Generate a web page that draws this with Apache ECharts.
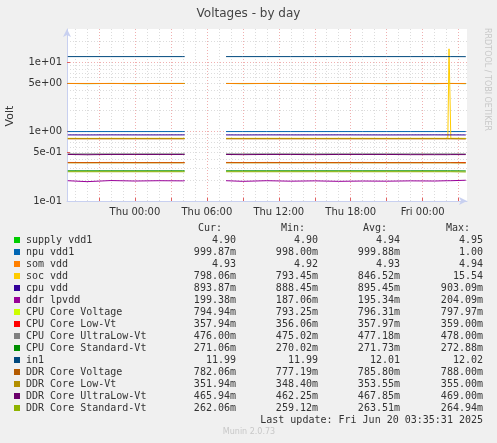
<!DOCTYPE html>
<html>
<head>
<meta charset="utf-8">
<script src="https://cdn.jsdelivr.net/npm/echarts@6/dist/echarts.min.js"></script>
<style>
  html, body { margin: 0; padding: 0; background: #f0f0f0; }
  #chart { width: 497px; height: 443px; }
</style>
</head>
<body>
<div id="chart"></div>
<script>
// hours relative to Thu 00:00; null row = no data (gap)
var hours = [-5.6, -4, -2, 0, 2, 4, 4.15, 5.5, 7.6, 9, 11, 13, 15, 17, 19, 21, 23, 25, 26.1, 26.2, 26.35, 26.5, 27.6];

var names = ['supply vdd1', 'npu vdd1', 'som vdd', 'soc vdd', 'cpu vdd', 'ddr lpvdd',
  'CPU Core Voltage', 'CPU Core Low-Vt', 'CPU Core UltraLow-Vt', 'CPU Core Standard-Vt',
  'in1', 'DDR Core Voltage', 'DDR Core Low-Vt', 'DDR Core UltraLow-Vt', 'DDR Core Standard-Vt'];
var colors = ['#00cc00', '#0066b3', '#ff8000', '#ffcc00', '#330099', '#990099',
  '#ccff00', '#ff0000', '#808080', '#008f00',
  '#00487d', '#b35a00', '#b38f00', '#6b006b', '#8fb300'];

var supplyVdd1 = [4.93, 4.90, 4.93, 4.90, 4.93, 4.93, 4.93, null, 4.93, 4.90, 4.93, 4.93, 4.90, 4.93, 4.93, 4.90, 4.93, 4.90, 4.93, 4.93, 4.93, 4.90, 4.90];
var npuVdd1 = [1.00, 1.00, 1.00, 1.00, 1.00, 1.00, 1.00, null, 1.00, 1.00, 1.00, 1.00, 1.00, 1.00, 1.00, 1.00, 1.00, 1.00, 1.00, 1.00, 1.00, 1.00, 0.9999];
var somVdd = [4.93, 4.93, 4.93, 4.93, 4.93, 4.93, 4.93, null, 4.93, 4.93, 4.93, 4.93, 4.93, 4.93, 4.93, 4.93, 4.93, 4.93, 4.93, 4.93, 4.93, 4.93, 4.93];
var socVdd = [0.798, 0.796, 0.798, 0.797, 0.798, 0.798, 0.798, null, 0.798, 0.797, 0.798, 0.798, 0.796, 0.798, 0.798, 0.797, 0.798, 0.798, 0.798, 15.54, 0.8, 0.798, 0.798];
var cpuVdd = [0.895, 0.894, 0.896, 0.895, 0.895, 0.896, 0.895, null, 0.895, 0.894, 0.896, 0.895, 0.895, 0.896, 0.895, 0.894, 0.895, 0.896, 0.895, 0.895, 0.895, 0.894, 0.894];
var ddrLpvdd = [0.196, 0.190, 0.197, 0.194, 0.196, 0.195, 0.196, null, 0.196, 0.192, 0.196, 0.193, 0.195, 0.192, 0.194, 0.193, 0.195, 0.194, 0.196, 0.197, 0.196, 0.197, 0.199];
var cpuCoreVoltage = [0.796, 0.796, 0.796, 0.796, 0.796, 0.796, 0.796, null, 0.796, 0.796, 0.796, 0.796, 0.796, 0.796, 0.796, 0.796, 0.796, 0.796, 0.796, 0.796, 0.796, 0.796, 0.795];
var cpuCoreLowVt = [0.359, 0.358, 0.359, 0.358, 0.358, 0.358, 0.358, null, 0.359, 0.358, 0.359, 0.358, 0.359, 0.358, 0.359, 0.358, 0.358, 0.358, 0.358, 0.358, 0.358, 0.358, 0.358];
var cpuCoreUltraLowVt = [0.477, 0.477, 0.477, 0.477, 0.477, 0.477, 0.477, null, 0.477, 0.477, 0.477, 0.477, 0.477, 0.477, 0.477, 0.477, 0.477, 0.477, 0.477, 0.477, 0.477, 0.477, 0.476];
var cpuCoreStandardVt = [0.272, 0.272, 0.272, 0.272, 0.272, 0.272, 0.272, null, 0.272, 0.272, 0.272, 0.272, 0.272, 0.272, 0.272, 0.272, 0.272, 0.272, 0.272, 0.272, 0.272, 0.272, 0.271];
var in1 = [12.01, 12.01, 12.01, 12.01, 12.01, 12.01, 12.01, null, 12.01, 12.01, 12.01, 12.01, 12.01, 12.01, 12.01, 12.01, 12.01, 12.01, 12.01, 12.01, 12.01, 12.01, 11.99];
var ddrCoreVoltage = [0.786, 0.786, 0.786, 0.786, 0.786, 0.786, 0.786, null, 0.786, 0.786, 0.786, 0.786, 0.786, 0.786, 0.786, 0.786, 0.786, 0.786, 0.786, 0.786, 0.786, 0.786, 0.782];
var ddrCoreLowVt = [0.354, 0.354, 0.354, 0.354, 0.354, 0.354, 0.354, null, 0.354, 0.354, 0.354, 0.354, 0.354, 0.354, 0.354, 0.354, 0.354, 0.354, 0.354, 0.354, 0.354, 0.354, 0.352];
var ddrCoreUltraLowVt = [0.468, 0.464, 0.468, 0.468, 0.468, 0.468, 0.468, null, 0.468, 0.465, 0.468, 0.468, 0.465, 0.468, 0.468, 0.468, 0.465, 0.465, 0.465, 0.466, 0.466, 0.466, 0.466];
var ddrCoreStandardVt = [0.264, 0.264, 0.264, 0.264, 0.264, 0.264, 0.264, null, 0.264, 0.264, 0.264, 0.264, 0.264, 0.264, 0.264, 0.264, 0.264, 0.264, 0.264, 0.264, 0.264, 0.264, 0.262];

var seriesValues = [supplyVdd1, npuVdd1, somVdd, socVdd, cpuVdd, ddrLpvdd,
  cpuCoreVoltage, cpuCoreLowVt, cpuCoreUltraLowVt, cpuCoreStandardVt,
  in1, ddrCoreVoltage, ddrCoreLowVt, ddrCoreUltraLowVt, ddrCoreStandardVt];

// legend statistics: cur, min, avg, max
var statCur = ['4.90', '999.87m', '4.93', '798.06m', '893.87m', '199.38m', '794.94m', '357.94m', '476.00m', '271.06m', '11.99', '782.06m', '351.94m', '465.94m', '262.06m'];
var statMin = ['4.90', '998.00m', '4.92', '793.45m', '888.45m', '187.06m', '793.25m', '356.06m', '475.02m', '270.02m', '11.99', '777.19m', '348.40m', '462.25m', '259.12m'];
var statAvg = ['4.94', '999.88m', '4.93', '846.52m', '895.45m', '195.34m', '796.31m', '357.97m', '477.18m', '271.73m', '12.01', '785.80m', '353.55m', '467.85m', '263.51m'];
var statMax = ['4.95', '1.00', '4.94', '15.54', '903.09m', '204.09m', '797.97m', '359.00m', '478.00m', '272.88m', '12.02', '788.00m', '355.00m', '469.00m', '264.94m'];

var xLabels = [0, 6, 12, 18, 24];
var xLabelText = ['Thu 00:00', 'Thu 06:00', 'Thu 12:00', 'Thu 18:00', 'Fri 00:00'];
var xMajor = [-3, 0, 3, 6, 9, 12, 15, 18, 21, 24, 27];
var xMinor = [];
for (var h = -5; h <= 27; h++) xMinor.push(h);
var yLabels = [0.1, 0.5, 1, 5, 10];
var yLabelText = ['1e-01', '5e-01', '1e+00', '5e+00', '1e+01'];

var chart = echarts.init(document.getElementById('chart'));
var mono = 'DejaVu Sans Mono';
var legendFont = '10px ' + mono;

var series = [];
for (var i = 0; i < names.length; i++) {
  var pts = [];
  for (var j = 0; j < hours.length; j++) pts.push([hours[j], seriesValues[i][j]]);
  series.push({
    name: names[i], type: 'line', data: pts, showSymbol: false, connectNulls: false,
    lineStyle: { color: colors[i], width: 1 }, itemStyle: { color: colors[i] },
    xAxisIndex: 0, yAxisIndex: 0, animation: false, z: 3
  });
}

var graphics = [];
var rowY = 240, rowH = 12;
var heads = [['Cur:', 222], ['Min:', 305], ['Avg:', 387], ['Max:', 470]];
for (var m = 0; m < heads.length; m++) {
  graphics.push({ type: 'text', style: { text: heads[m][0], x: heads[m][1], y: rowY - 12, textAlign: 'right', textVerticalAlign: 'middle', font: legendFont, fill: '#333' } });
}
for (var k = 0; k < names.length; k++) {
  var yy = rowY + k * rowH;
  graphics.push({ type: 'rect', shape: { x: 14, y: yy - 3, width: 6, height: 6 }, style: { fill: colors[k] } });
  graphics.push({ type: 'text', style: { text: names[k], x: 26, y: yy, textVerticalAlign: 'middle', font: legendFont, fill: '#333' } });
  graphics.push({ type: 'text', style: { text: statCur[k], x: 236, y: yy, textAlign: 'right', textVerticalAlign: 'middle', font: legendFont, fill: '#333' } });
  graphics.push({ type: 'text', style: { text: statMin[k], x: 318, y: yy, textAlign: 'right', textVerticalAlign: 'middle', font: legendFont, fill: '#333' } });
  graphics.push({ type: 'text', style: { text: statAvg[k], x: 400, y: yy, textAlign: 'right', textVerticalAlign: 'middle', font: legendFont, fill: '#333' } });
  graphics.push({ type: 'text', style: { text: statMax[k], x: 483, y: yy, textAlign: 'right', textVerticalAlign: 'middle', font: legendFont, fill: '#333' } });
}
graphics.push({ type: 'text', style: { text: 'Last update: Fri Jun 20 03:35:31 2025', x: 483, y: rowY + 15 * rowH, textAlign: 'right', textVerticalAlign: 'middle', font: legendFont, fill: '#333' } });
graphics.push({ type: 'text', style: { text: 'Munin 2.0.73', x: 249, y: 432, textAlign: 'center', textVerticalAlign: 'middle', font: '8px DejaVu Sans', fill: '#c8c8c8' } });
graphics.push({ type: 'text', rotation: -Math.PI / 2, x: 487, y: 28, style: { text: 'RRDTOOL / TOBI OETIKER', textVerticalAlign: 'middle', font: '8px DejaVu Sans', fill: '#c8c8c8' } });
graphics.push({ type: 'text', rotation: Math.PI / 2, x: 10, y: 116, style: { text: 'Volt', textAlign: 'center', textVerticalAlign: 'middle', font: '11px DejaVu Sans', fill: '#333' } });

var option = {
  backgroundColor: '#f0f0f0',
  animation: false,
  title: {
    text: 'Voltages - by day', left: 'center', top: 3,
    textStyle: { fontFamily: 'DejaVu Sans', fontSize: 12, fontWeight: 'normal', color: '#444' }
  },
  grid: [
    { left: 67, right: 30, top: 29, bottom: 242, backgroundColor: '#ffffff', show: true, borderWidth: 0 }
  ],
  xAxis: [
    {
      type: 'value', min: -17 / 3, max: 27.7, gridIndex: 0,
      axisLine: { show: true, onZero: false, lineStyle: { color: '#c8d0f0' }, symbol: ['none', 'arrow'], symbolSize: [6, 8] },
      axisTick: { show: true, customValues: xMajor, length: 3, inside: true, lineStyle: { color: '#e06060' } },
      axisLabel: {
        customValues: xLabels, fontFamily: 'DejaVu Sans', fontSize: 10, color: '#333', margin: 6,
        formatter: function (v) { return xLabelText[xLabels.indexOf(v)] || ''; }
      },
      splitLine: { show: true, lineStyle: { color: '#f0b0b0', type: [1, 2] } },
      z: 2
    },
    {
      type: 'value', min: -17 / 3, max: 27.7, gridIndex: 0, position: 'bottom',
      axisLine: { show: false }, axisLabel: { show: false },
      axisTick: { show: false, customValues: xMinor },
      splitLine: { show: true, lineStyle: { color: '#dcdcdc', type: [1, 2] } },
      z: 1
    }
  ],
  yAxis: [
    {
      type: 'log', min: 0.1, max: 30, logBase: 10, gridIndex: 0,
      axisLine: { show: true, onZero: false, lineStyle: { color: '#c8d0f0' }, symbol: ['none', 'arrow'], symbolSize: [6, 8] },
      axisTick: { show: true, customValues: yLabels, length: 3, inside: true, lineStyle: { color: '#e06060' } },
      axisLabel: {
        customValues: yLabels, fontFamily: 'DejaVu Sans', fontSize: 10, color: '#333', margin: 5,
        formatter: function (v) {
          for (var q = 0; q < yLabels.length; q++) if (Math.abs(yLabels[q] - v) < 1e-9) return yLabelText[q];
          return '';
        }
      },
      splitLine: { show: true, lineStyle: { color: '#f0b0b0', type: [1, 2] } },
      minorTick: { show: false, splitNumber: 9 },
      minorSplitLine: { show: true, lineStyle: { color: '#dcdcdc', type: [1, 2] } }
    }
  ],
  series: series,
  graphic: graphics
};
chart.setOption(option);
</script>
</body>
</html>
